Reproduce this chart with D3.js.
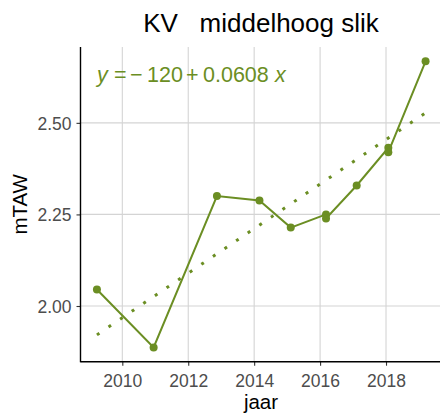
<!DOCTYPE html>
<html><head><meta charset="utf-8">
<script src="https://cdn.jsdelivr.net/npm/d3@7"></script>
<style>body{margin:0;background:#fff}svg{display:block}</style>
</head><body>
<script>
const years  = [2009.23, 2010.95, 2012.87, 2014.16, 2015.11, 2016.18, 2016.18, 2017.11, 2018.07, 2018.07, 2019.2];
const values = [2.045, 1.887, 2.300, 2.288, 2.214, 2.250, 2.239, 2.329, 2.432, 2.420, 2.668];
const xTicks = [2010, 2012, 2014, 2016, 2018];
const yTicks = [2.00, 2.25, 2.50];
const fitIntercept = -120.24;
const fitSlope = 0.0608;
const titleText = "KV\u00a0\u00a0\u00a0middelhoog slik";
const xLabel = "jaar", yLabel = "mTAW";

const W = 440, H = 416;
const green = "#6b8e23";
const FONT = "'Liberation Sans', Arial, sans-serif";
const svg = d3.select("body").append("svg").attr("width", W).attr("height", H)
  .style("font-family", FONT);

const data = years.map((y, i) => ({x: y, y: values[i]}));
const xe = d3.extent(years), ye = d3.extent(values);
const xp = (xe[1] - xe[0]) * 0.05, yp = (ye[1] - ye[0]) * 0.05;
const L = 80.5, T = 47, B = 361.7;
const x = d3.scaleLinear().domain([xe[0] - xp, xe[1] + xp]).range([L, 442]);
const y = d3.scaleLinear().domain([ye[0] - yp, ye[1] + yp]).range([B, T]);

// grid
const g = svg.append("g");
g.selectAll(".gx").data(xTicks).join("line")
  .attr("x1", d => x(d)).attr("x2", d => x(d)).attr("y1", T).attr("y2", B)
  .attr("stroke", "#d4d4d4").attr("stroke-width", 1.1);
g.selectAll(".gy").data(yTicks).join("line")
  .attr("x1", L).attr("x2", W).attr("y1", d => y(d)).attr("y2", d => y(d))
  .attr("stroke", "#d4d4d4").attr("stroke-width", 1.1);

// axes
const xAxis = d3.axisBottom(x).tickValues(xTicks).tickFormat(d3.format("d")).tickSize(4).tickPadding(5);
const yAxis = d3.axisLeft(y).tickValues(yTicks).tickFormat(d3.format(".2f")).tickSize(4).tickPadding(5);
const ax = svg.append("g").attr("transform", `translate(0,${B})`).call(xAxis);
const ay = svg.append("g").attr("transform", `translate(${L},0)`).call(yAxis);
[ax, ay].forEach(a => {
  a.select(".domain").remove();
  a.selectAll(".tick line").attr("stroke", "#333").attr("stroke-width", 1.1);
  a.selectAll(".tick text").attr("fill", "#4d4d4d").style("font-size", "17.5px")
    .style("font-family", FONT);
});
ax.selectAll(".tick text").attr("dy", null).attr("y", 25);
ay.selectAll(".tick text").attr("dy", "0.36em");
svg.append("line").attr("x1", L).attr("x2", L).attr("y1", T).attr("y2", B + 0.5)
  .attr("stroke", "#000").attr("stroke-width", 1.4);
svg.append("line").attr("x1", L).attr("x2", W).attr("y1", B).attr("y2", B)
  .attr("stroke", "#000").attr("stroke-width", 1.4);

// fit line (dotted)
const fx = d3.extent(years);
svg.append("line")
  .attr("x1", x(fx[0])).attr("y1", y(fitIntercept + fitSlope * fx[0]))
  .attr("x2", x(fx[1])).attr("y2", y(fitIntercept + fitSlope * fx[1]))
  .attr("stroke", green).attr("stroke-width", 3).attr("stroke-dasharray", "3 11");

// data line + points
svg.append("path").datum(data)
  .attr("d", d3.line().x(d => x(d.x)).y(d => y(d.y)))
  .attr("fill", "none").attr("stroke", green).attr("stroke-width", 2);
svg.selectAll(".pt").data(data).join("circle")
  .attr("cx", d => x(d.x)).attr("cy", d => y(d.y)).attr("r", 4).attr("fill", green);

// equation
const eq = svg.append("text").attr("y", 82).attr("fill", green).style("font-size", "21.5px");
eq.append("tspan").attr("x", 97).style("font-style", "italic").text("y");
eq.append("tspan").attr("x", 114).text("=");
eq.append("tspan").attr("x", 130).text("\u2212");
eq.append("tspan").attr("x", 147).text("120");
eq.append("tspan").attr("x", 186).text("+");
eq.append("tspan").attr("x", 203).text("0.0608");
eq.append("tspan").attr("x", 275).style("font-style", "italic").text("x");

// labels
svg.append("text").attr("x", 261).attr("y", 32).attr("text-anchor", "middle")
  .style("font-size", "26px").attr("fill", "#000").text(titleText);
svg.append("text").attr("x", 261).attr("y", 409).attr("text-anchor", "middle")
  .style("font-size", "20.5px").attr("fill", "#000").text(xLabel);
svg.append("text").attr("transform", `translate(27,${(T + B) / 2}) rotate(-90)`).attr("text-anchor", "middle")
  .style("font-size", "20.5px").attr("fill", "#000").text(yLabel);
</script>
</body></html>
